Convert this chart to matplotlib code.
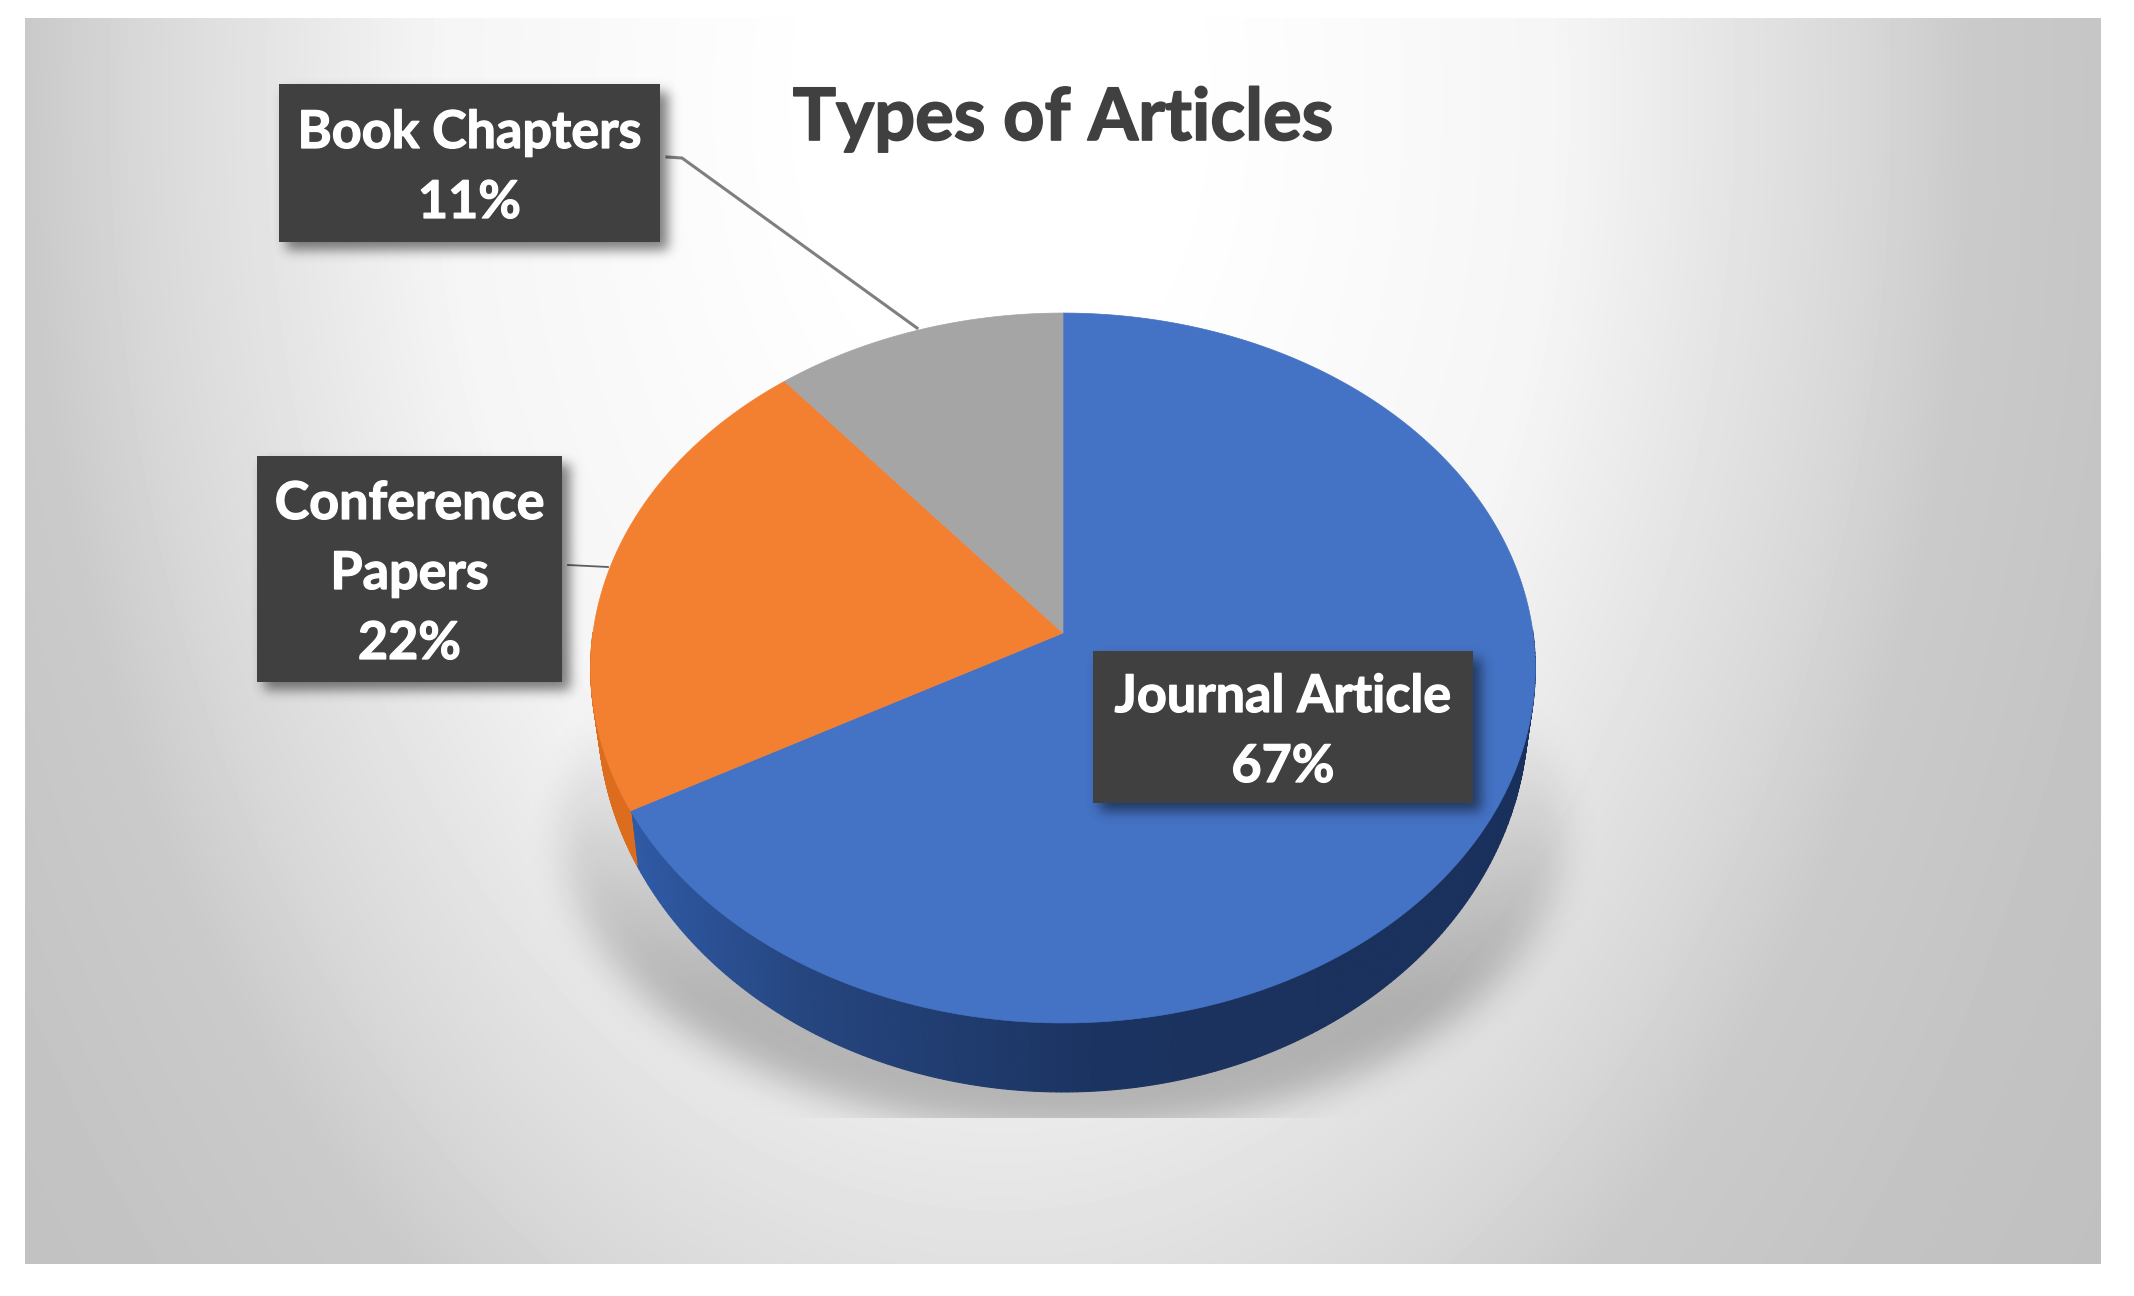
import numpy as np
import matplotlib
matplotlib.use("Agg")
import matplotlib.pyplot as plt
import matplotlib.patheffects as pe

# chart data
categories = ["Journal Article", "Conference\nPapers", "Book Chapters"]
shares = [67, 22, 11]
slice_colors = ["#4472c4", "#f38030", "#a5a5a5"]
side_colors = [None, "#dc6c1e", "#8a8a8a"]
title = "Types of Articles"

W, H = 2134, 1296
PANEL = (25, 2101, 18, 1264)
CX, CY = 1063, 633   # apex of the pie
RX, RY, TILT, DEPTH = 470, 351.5, 0.0986, 69


def project(t):
    # circle seen in perspective, far edge on top
    w = 1 + TILT * np.sin(t)
    return CX + RX * np.cos(t) / w, CY - RY * np.sin(t) / w


def rim(t):
    # lower outline of the pie, slightly narrower than the top face
    x, y = project(t)
    return CX + (x - CX) * 0.985, y + DEPTH * (0.6 - 0.4 * np.sin(t))


def blur(a, sigma):
    fy = np.fft.fftfreq(a.shape[0])[:, None]
    fx = np.fft.rfftfreq(a.shape[1])[None, :]
    g = np.exp(-2 * (np.pi * sigma) ** 2 * (fx ** 2 + fy ** 2))
    return np.fft.irfft2(np.fft.rfft2(a) * g, s=a.shape)


def soft_box(ax, x0, x1, y0, y1, sigma, alpha, z):
    pad = int(sigma * 4)
    xs = np.arange(x0 - pad, x1 + pad)
    ys = np.arange(y0 - pad, y1 + pad)
    m = np.zeros((len(ys), len(xs)))
    m[pad:-pad, pad:-pad] = 1
    rgba = np.zeros(m.shape + (4,))
    rgba[..., 3] = np.clip(blur(m, sigma), 0, 1) * alpha
    ax.imshow(rgba, extent=(xs[0], xs[-1], ys[-1], ys[0]), aspect="auto", zorder=z)


fig = plt.figure(figsize=(W / 100, H / 100), dpi=100, facecolor="white")
ax = fig.add_axes([0, 0, 1, 1])

# panel background, radial grey
xx, yy = np.meshgrid(np.arange(PANEL[0], PANEL[1]), np.arange(PANEL[2], PANEL[3]))
r = np.hypot((xx - 1000) / 860, (yy - 100) / 1300)
grey = np.interp(r, [0.2, 0.65, 1.0, 1.13, 1.4, 1.7], [255, 245, 216, 202, 194, 190]) / 255
ax.imshow(grey, cmap="gray", vmin=0, vmax=1, extent=(PANEL[0], PANEL[1], PANEL[3], PANEL[2]),
          aspect="auto", zorder=0)

# pie shadow
mask = (((xx - 1063) / 502) ** 2 + ((yy - 830) / 300) ** 2 <= 1).astype(float)
mask *= np.clip((yy - 700) / 300, 0, 1)
alpha = np.clip(blur(mask, 18), 0, 1) * 0.24
alpha[yy > 1117] = 0
shadow = np.zeros(alpha.shape + (4,))
shadow[..., 3] = alpha
ax.imshow(shadow, extent=(PANEL[0], PANEL[1], PANEL[3], PANEL[2]), aspect="auto", zorder=1)

# slices, clockwise from the top
edges = np.pi / 2 - 2 * np.pi * np.cumsum([0] + shares) / sum(shares)
blue_x = [630, 800, 1100, 1540]
blue_rgb = np.array([[0x2f, 0x5a, 0xa6], [0x26, 0x46, 0x80], [0x1b, 0x33, 0x60], [0x1a, 0x30, 0x5c]]) / 255
for i in range(len(shares)):
    t = np.linspace(edges[i], edges[i + 1], 400)
    px, py = project(t)
    bx, by = rim(t)
    # side face below the visible arc
    for j in range(len(t) - 1):
        if np.sin(t[j]) < 0 or np.sin(t[j + 1]) < 0:
            qx = [px[j], px[j + 1], bx[j + 1], bx[j]]
            qy = [py[j], py[j + 1], by[j + 1], by[j]]
            if side_colors[i] is None:
                c = [np.interp(px[j], blue_x, blue_rgb[:, k]) for k in range(3)]
            else:
                c = side_colors[i]
            ax.fill(qx, qy, color=c, lw=0.8, zorder=2)
for i in range(len(shares)):
    t = np.linspace(edges[i], edges[i + 1], 400)
    px, py = project(t)
    ax.fill(np.r_[CX, px], np.r_[CY, py], color=slice_colors[i], lw=0.5, zorder=3)

# leader lines
ax.plot([667, 682, 917], [157, 158, 328], color="#7f7f7f", lw=2.2, zorder=4)
ax.plot([568, 608], [565, 567], color="#5f5f5f", lw=1.3, zorder=4)

# data labels
label_boxes = [(1093, 1473, 651, 803), (257, 562, 456, 682), (279, 660, 84, 242)]
line_step = 70
for i, (x0, x1, y0, y1) in enumerate(label_boxes):
    soft_box(ax, x0 + 7, x1 + 9, y0 + 8, y1 + 9, 6, 0.5, 5)
    ax.fill([x0, x1, x1, x0], [y0, y0, y1, y1], color="#404040", lw=0, zorder=6)
    lines = categories[i].split("\n") + [f"{shares[i]}%"]
    mid = (y0 + y1) / 2
    for n, s in enumerate(lines):
        yc = mid + (n - (len(lines) - 1) / 2) * line_step + 1
        ax.text((x0 + x1) / 2, yc, s, color="white", fontsize=37.5, family="Lato", weight="bold",
                ha="center", va="center_baseline", zorder=7,
                path_effects=[pe.withStroke(linewidth=0.9, foreground="white")])

ax.text(1063, 113, title, color="#404040", fontsize=52, family="Lato", weight="bold",
        ha="center", va="center_baseline", zorder=7,
        path_effects=[pe.withStroke(linewidth=1.2, foreground="#404040")])

ax.set_xlim(0, W)
ax.set_ylim(H, 0)
ax.axis("off")
fig.savefig("out.png", dpi=100, facecolor="white")
